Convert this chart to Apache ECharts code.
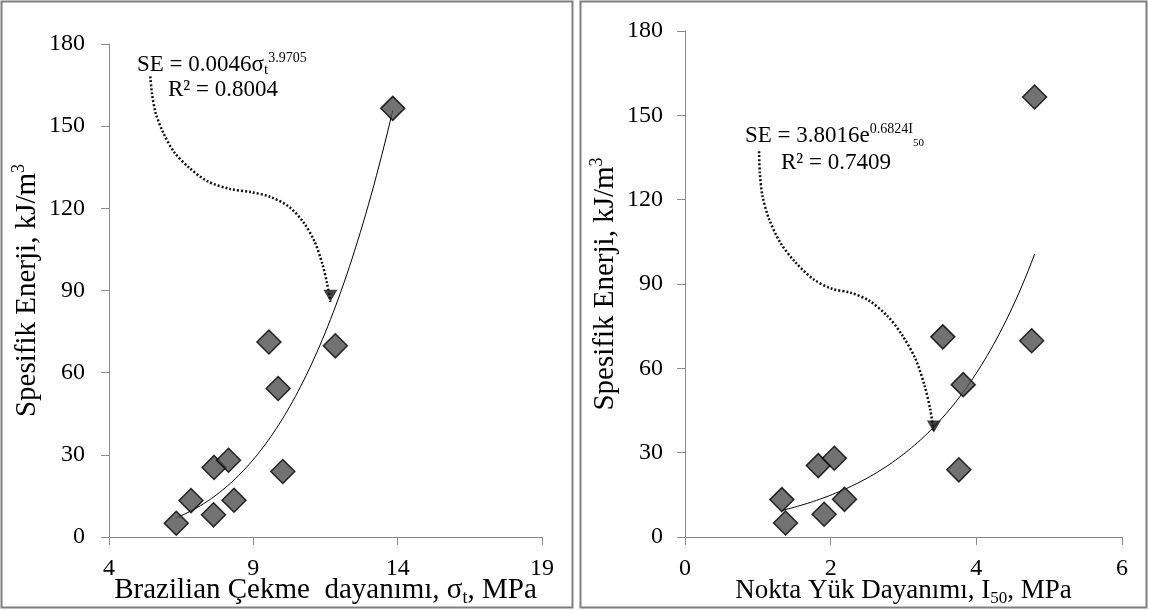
<!DOCTYPE html>
<html>
<head>
<meta charset="utf-8">
<script src="https://cdn.jsdelivr.net/npm/echarts@6/dist/echarts.min.js"></script>
<style>
  html, body { margin: 0; padding: 0; background: #ffffff; }
  #chart { width: 1149px; height: 610px; }
</style>
</head>
<body>
<div id="chart"></div>
<script>
// Specific energy (kJ/m3) of each sample, shared by both panels
const specificEnergy = [5.0, 13.3, 8.1, 25.4, 28.0, 13.4, 71.2, 54.2, 23.9, 69.8, 156.5];
// Brazilian tensile strength sigma_t (MPa) of the same samples
const brazilianStrength = [6.33, 6.84, 7.62, 7.64, 8.14, 8.33, 9.54, 9.86, 10.02, 11.84, 13.83];
// Point load index I50 (MPa) of the same samples
const pointLoadIndex = [1.38, 1.33, 1.91, 1.83, 2.05, 2.19, 3.54, 3.82, 3.76, 4.76, 4.80];

// Axis tick values
const energyTicks = [0, 30, 60, 90, 120, 150, 180];
const brazilianTicks = [4, 9, 14, 19];
const pointLoadTicks = [0, 2, 4, 6];

// Fitted trend equations (as printed on the panels)
const powerFit = { a: 0.0046, b: 3.9705, r2: '0.8004' };
const expFit = { a: 3.8016, b: 0.6824, r2: '0.7409' };

// Dotted callout arrows, in data units: [x, SE]; last point is the arrow tip
const leftArrowPath = [
  [5.43, 168.2], [5.49, 161.8], [5.62, 154.7], [5.88, 147.6], [6.26, 140.5],
  [6.77, 134.9], [7.41, 129.9], [8.18, 127.1], [8.94, 125.9], [9.58, 124.2],
  [10.22, 120.7], [10.73, 115.0], [11.12, 107.9], [11.40, 99.4], [11.56, 92.3],
  [11.67, 85.9]
];
const rightArrowPath = [
  [1.017, 137.2], [1.027, 129.7], [1.063, 121.4], [1.154, 113.1], [1.307, 104.8],
  [1.510, 97.9], [1.764, 91.7], [2.019, 88.3], [2.273, 86.9], [2.527, 84.1],
  [2.781, 78.6], [2.985, 71.7], [3.163, 63.4], [3.290, 53.8], [3.366, 45.5],
  [3.417, 37.2]
];

const FONT = 'Liberation Serif';
const AXIS_GREY = '#8a8a8a';

function ticksToRange(t) {
  return { min: t[0], max: t[t.length - 1], interval: t[1] - t[0] };
}

function zip(xs, ys) { return xs.map((x, i) => [x, ys[i]]); }

function curve(fn, x0, x1, n) {
  const out = [];
  for (let i = 0; i <= n; i++) {
    const x = x0 + (x1 - x0) * i / n;
    out.push([x, fn(x)]);
  }
  return out;
}

function nameRich(size) {
  return {
    a: { fontFamily: FONT, fontSize: size, color: '#000', lineHeight: size + 5 },
    sub: { fontFamily: FONT, fontSize: Math.round(size * 0.63), color: '#000',
           lineHeight: Math.round(size * 0.66), verticalAlign: 'bottom' },
    sup: { fontFamily: FONT, fontSize: Math.round(size * 0.63), color: '#000',
           lineHeight: Math.round(size * 0.75), verticalAlign: 'top' }
  };
}

const eqRich = {
  a: { fontFamily: FONT, fontSize: 23, fontWeight: 'normal', color: '#000', lineHeight: 27 },
  sub: { fontFamily: FONT, fontSize: 15, fontWeight: 'normal', color: '#000', lineHeight: 16, verticalAlign: 'bottom' },
  sup: { fontFamily: FONT, fontSize: 14, fontWeight: 'normal', color: '#000', lineHeight: 18, verticalAlign: 'top' },
  sup2: { fontFamily: FONT, fontSize: 11, fontWeight: 'normal', color: '#000', lineHeight: 16, verticalAlign: 'bottom' }
};

function valueAxis(gridIndex, ticks, labelMargin, extra) {
  const r = ticksToRange(ticks);
  return Object.assign({
    type: 'value', gridIndex: gridIndex,
    min: r.min, max: r.max, interval: r.interval,
    axisLine: { show: true, onZero: false, lineStyle: { color: AXIS_GREY, width: 1 } },
    axisTick: { show: true, inside: false, length: 8, lineStyle: { color: AXIS_GREY, width: 1 } },
    splitLine: { show: false },
    axisLabel: { show: true, fontFamily: FONT, fontSize: 24, color: '#000', margin: labelMargin,
                 showMinLabel: true, showMaxLabel: true },
    nameLocation: 'middle',
    nameMoveOverlap: false
  }, extra);
}

const markerStyle = { color: '#4f4f4f', borderColor: '#000', borderWidth: 1.5 };
const arrowLine = { color: '#111', width: 2.5, type: [2, 2] };
const arrowHead = {
  type: 'scatter', symbol: 'triangle', symbolRotate: 180, symbolSize: [14, 12],
  symbolOffset: [0, -6], itemStyle: { color: '#111' }, z: 4
};

const chart = echarts.init(document.getElementById('chart'), null, { renderer: 'canvas' });

chart.setOption({
  animation: false,
  backgroundColor: '#ffffff',
  graphic: [
    { type: 'rect', shape: { x: 1.5, y: 1.5, width: 571, height: 606 },
      style: { fill: 'none', stroke: '#7f7f7f', lineWidth: 2 }, silent: true },
    { type: 'rect', shape: { x: 580.5, y: 1.5, width: 566, height: 606 },
      style: { fill: 'none', stroke: '#7f7f7f', lineWidth: 2 }, silent: true }
  ],
  title: [
    { left: 137, top: 51, padding: 0,
      text: '{a|SE = 0.0046σ}{sub|t}{sup|' + powerFit.b.toFixed(4) + '}',
      textStyle: { fontWeight: 'normal', rich: eqRich } },
    { left: 168, top: 76, padding: 0,
      text: '{a|R² = ' + powerFit.r2 + '}', textStyle: { fontWeight: 'normal', rich: eqRich } },
    { left: 745, top: 122, padding: 0,
      text: '{a|SE = 3.8016e}{sup|' + expFit.b.toFixed(4) + 'I}{sup2|50}',
      textStyle: { fontWeight: 'normal', rich: eqRich } },
    { left: 781, top: 149, padding: 0,
      text: '{a|R² = ' + expFit.r2 + '}', textStyle: { fontWeight: 'normal', rich: eqRich } }
  ],
  grid: [
    { left: 109, top: 44, width: 433, height: 493, containLabel: false, outerBoundsMode: 'none' },
    { left: 685, top: 31, width: 437, height: 506, containLabel: false, outerBoundsMode: 'none' }
  ],
  xAxis: [
    valueAxis(0, brazilianTicks, 20, {
      name: '{a|Brazilian Çekme  dayanımı, σ}{sub|t}{a|, MPa}',
      nameGap: 36, nameTextStyle: { rich: nameRich(29) }
    }),
    valueAxis(1, pointLoadTicks, 20, {
      name: '{a|Nokta Yük Dayanımı, I}{sub|50}{a|, MPa}',
      nameGap: 38, nameTextStyle: { rich: nameRich(27) }
    })
  ],
  yAxis: [
    valueAxis(0, energyTicks, 24, {
      name: '{a|Spesifik Enerji, kJ/m}{sup|3}',
      nameGap: 65, nameTextStyle: { rich: nameRich(29) }
    }),
    valueAxis(1, energyTicks, 22, {
      name: '{a|Spesifik Enerji, kJ/m}{sup|3}',
      nameGap: 63, nameTextStyle: { rich: nameRich(29) }
    })
  ],
  series: [
    // Left panel: power-law trend, callout arrow, samples
    {
      type: 'line', xAxisIndex: 0, yAxisIndex: 0, z: 2,
      data: curve(x => powerFit.a * Math.pow(x, powerFit.b),
                  Math.min(...brazilianStrength), Math.max(...brazilianStrength), 80),
      showSymbol: false, symbol: 'none', smooth: false,
      lineStyle: { color: '#000', width: 1 }
    },
    {
      type: 'line', xAxisIndex: 0, yAxisIndex: 0, z: 3,
      data: leftArrowPath, showSymbol: false, symbol: 'none', smooth: 0.3,
      lineStyle: arrowLine
    },
    Object.assign({ xAxisIndex: 0, yAxisIndex: 0,
      data: [leftArrowPath[leftArrowPath.length - 1]] }, arrowHead),
    {
      type: 'scatter', xAxisIndex: 0, yAxisIndex: 0, z: 5,
      data: zip(brazilianStrength, specificEnergy),
      symbol: 'diamond', symbolSize: 24, itemStyle: markerStyle
    },
    // Right panel: exponential trend, callout arrow, samples
    {
      type: 'line', xAxisIndex: 1, yAxisIndex: 1, z: 2,
      data: curve(x => expFit.a * Math.exp(expFit.b * x),
                  Math.min(...pointLoadIndex), Math.max(...pointLoadIndex), 80),
      showSymbol: false, symbol: 'none', smooth: false,
      lineStyle: { color: '#000', width: 1 }
    },
    {
      type: 'line', xAxisIndex: 1, yAxisIndex: 1, z: 3,
      data: rightArrowPath, showSymbol: false, symbol: 'none', smooth: 0.3,
      lineStyle: arrowLine
    },
    Object.assign({ xAxisIndex: 1, yAxisIndex: 1,
      data: [rightArrowPath[rightArrowPath.length - 1]] }, arrowHead),
    {
      type: 'scatter', xAxisIndex: 1, yAxisIndex: 1, z: 5,
      data: zip(pointLoadIndex, specificEnergy),
      symbol: 'diamond', symbolSize: 24, itemStyle: markerStyle
    }
  ]
});
</script>
</body>
</html>
